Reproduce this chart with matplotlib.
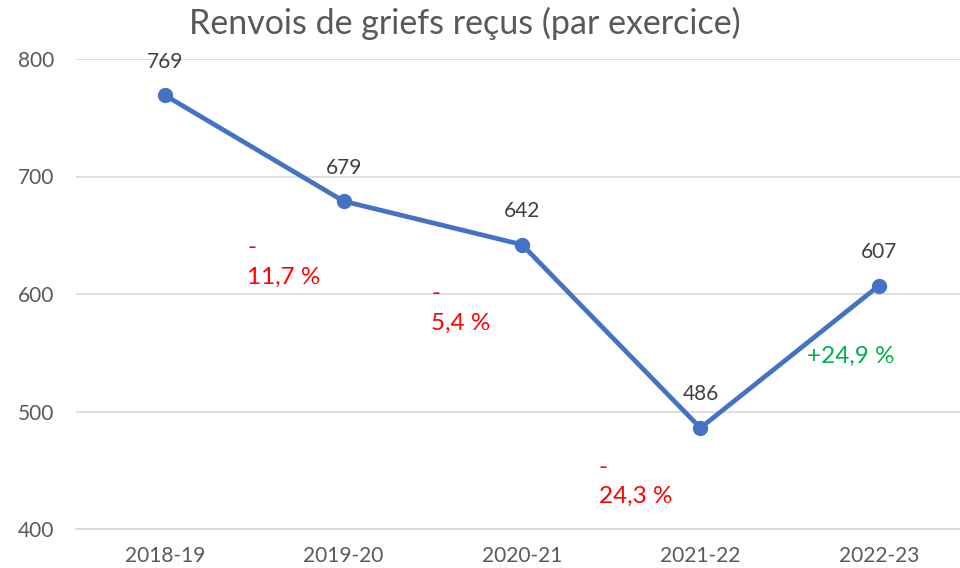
import matplotlib.pyplot as plt

# data
years = ['2018-19', '2019-20', '2020-21', '2021-22', '2022-23']
renvois = [769, 679, 642, 486, 607]
var_labels = ['-\n11,7 %', '-\n5,4 %', '-\n24,3 %', '+24,9 %']
var_x = [0.46, 1.49, 2.43, 3.60]
var_y = [627, 588, 440, 547]
var_colors = ['#FF0000', '#FF0000', '#FF0000', '#00B050']

plt.rcParams['font.family'] = ['Lato', 'DejaVu Sans']

fig = plt.figure(figsize=(9.6, 5.68), dpi=100)
ax = fig.add_axes([76 / 960, 39 / 568, 1 - 76 / 960, 470 / 568])

x = list(range(len(years)))
ax.plot(x, renvois, color='#4472C4', linewidth=3.4, marker='o',
        markersize=10, zorder=3, solid_capstyle='round')

for xi, v in zip(x, renvois):
    ax.annotate(str(v), (xi, v), xytext=(0, 17), textcoords='offset points',
                ha='center', va='bottom', fontsize=15, color='#404040')

for xi, yi, lab, c in zip(var_x, var_y, var_labels, var_colors):
    ax.text(xi, yi, lab, ha='left', va='center', fontsize=17.5, color=c,
            linespacing=1.5)

ax.set_xlim(-0.5, 4.455)
ax.set_ylim(400, 800)
ax.set_yticks([400, 500, 600, 700, 800])
ax.set_xticks(x)
ax.set_xticklabels(years)
ax.tick_params(length=0, labelsize=15, labelcolor='#595959')
ax.tick_params(axis='y', pad=16)
ax.tick_params(axis='x', pad=12)
ax.grid(axis='y', color='#D9D9D9', linewidth=1.2)
ax.set_axisbelow(True)
for s in ['top', 'right', 'left']:
    ax.spines[s].set_visible(False)
ax.spines['bottom'].set_color('#D9D9D9')
ax.spines['bottom'].set_linewidth(1.2)

fig.text(465 / 960, 1 - 23 / 568, 'Renvois de griefs reçus (par exercice)',
         ha='center', va='center', fontsize=24.5, color='#595959')

plt.savefig('out.png', dpi=100)
